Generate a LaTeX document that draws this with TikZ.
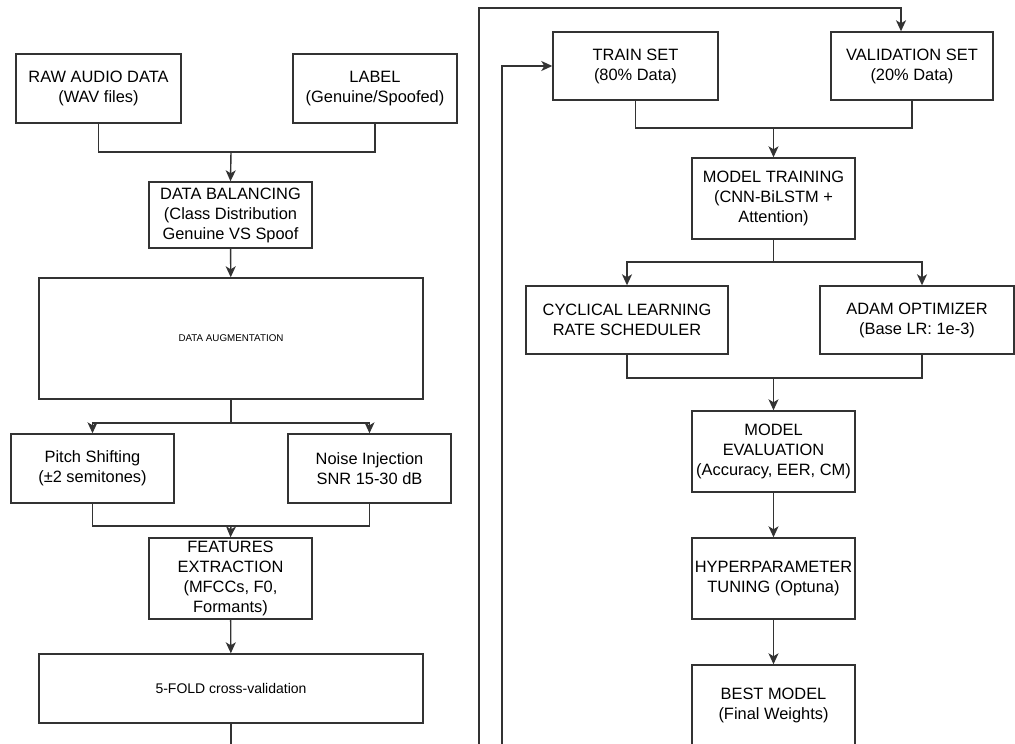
\documentclass[tikz,border=0pt]{standalone}
\usepackage{fontspec}
\setmainfont{Liberation Sans}
\usepackage{tikz}
\usetikzlibrary{positioning,arrows.meta}
\definecolor{lncol}{RGB}{51,51,51}

\begin{document}
\begin{tikzpicture}[
  x=1pt, y=-1pt,
  font=\fontsize{16.4}{20}\selectfont,
  box/.style={draw=lncol, line width=1.4pt, align=center, inner sep=1pt, minimum width=163pt, minimum height=69pt},
  arr/.style={-{Stealth[length=11pt, width=10pt, inset=3pt]}, line width=1.4pt, draw=lncol},
  ln/.style={line width=1.4pt, draw=lncol}
]
\clip (0,0) rectangle (1015,744);
% left column: data preparation
\node[box, minimum width=165pt]                at (98.5,88.5)  (raw)   {RAW AUDIO DATA\\(WAV files)};
\node[box, minimum width=164pt]                at (375,88.5)   (label) {LABEL\\(Genuine/Spoofed)};
\node[box, minimum height=66pt]                at (230.5,215)  (bal)   {DATA BALANCING\\(Class Distribution\\Genuine VS Spoof};
\node[box, minimum width=384pt, minimum height=121pt, font=\fontsize{9.8}{12}\selectfont] at (231,338.5) (aug) {DATA AUGMENTATION};
\node[box]                                     at (92.5,468.5) (pitch) {Pitch Shifting\\(\textpm2 semitones)};
\node[box]                                     at (369.5,468.5)(noise) {Noise Injection\\SNR 15-30 dB};
\node[box, minimum height=81pt]                at (230.5,578.5)(feat)  {FEATURES\\EXTRACTION\\(MFCCs, F0,\\Formants)};
\node[box, minimum width=384pt, font=\fontsize{14}{17}\selectfont] at (231,688.5) (fold) {5-FOLD cross-validation};
\coordinate (jin)  at (231,152);
\coordinate (jaug) at (231,423);
\coordinate (jft)  at (231,526);
\draw[ln] (raw.south) |- (jin) -| (label.south);
\draw[arr] (jin) -- (bal.north);
\draw[arr] (bal) -- (aug);
\draw[ln] (aug.south) -- (jaug);
\draw[arr] (jaug) -| (pitch.north);
\draw[arr] (jaug) -| (noise.north);
\draw[ln] (pitch.south) |- (jft) -| (noise.south);
\draw[arr] (jft) -- (feat.north);
\draw[arr] (feat) -- (fold);
% right column: training
\node[box, minimum width=165pt, minimum height=68pt] at (635.5,66) (train) {TRAIN SET\\(80\% Data)};
\node[box, minimum width=162pt, minimum height=68pt] at (912,66)   (val)   {VALIDATION SET\\(20\% Data)};
\node[box, minimum height=81pt]                at (773.5,198.5) (mtrain) {MODEL TRAINING\\(CNN-BiLSTM +\\Attention)};
\node[box, minimum width=202pt, minimum height=68pt] at (627,320) (cyc)  {CYCLICAL LEARNING\\RATE SCHEDULER};
\node[box, minimum width=194pt, minimum height=68pt] at (917,320) (adam) {ADAM OPTIMIZER\\(Base LR: 1e-3)};
\node[box, minimum height=81pt]                at (773.5,451.5) (eval)  {MODEL\\EVALUATION\\(Accuracy, EER, CM)};
\node[box, minimum height=81pt]                at (773.5,578.5) (hyper) {HYPERPARAMETER\\TUNING (Optuna)};
\node[box, minimum height=81pt]                at (773.5,705.5) (best)  {BEST MODEL\\(Final Weights)};
\coordinate (jtv) at (773.5,128);
\coordinate (jsp) at (773.5,262);
\coordinate (jop) at (773.5,378);
\draw[arr] (fold.south) |- (502,752) |- (train.west);
\draw[arr] (fold.south) |- (479,760) -- (479,8) -| ([xshift=-11pt]val.north);
\draw[ln] (train.south) |- (jtv) -| (val.south);
\draw[arr] (jtv) -- (mtrain.north);
\draw[ln] (mtrain.south) -- (jsp);
\draw[arr] (jsp) -| (cyc.north);
\draw[arr] (jsp) -| ([xshift=5pt]adam.north);
\draw[ln] (cyc.south) |- (jop) -| ([xshift=5pt]adam.south);
\draw[arr] (jop) -- (eval.north);
\draw[arr] (eval) -- (hyper);
\draw[arr] (hyper) -- (best);
\end{tikzpicture}
\end{document}
